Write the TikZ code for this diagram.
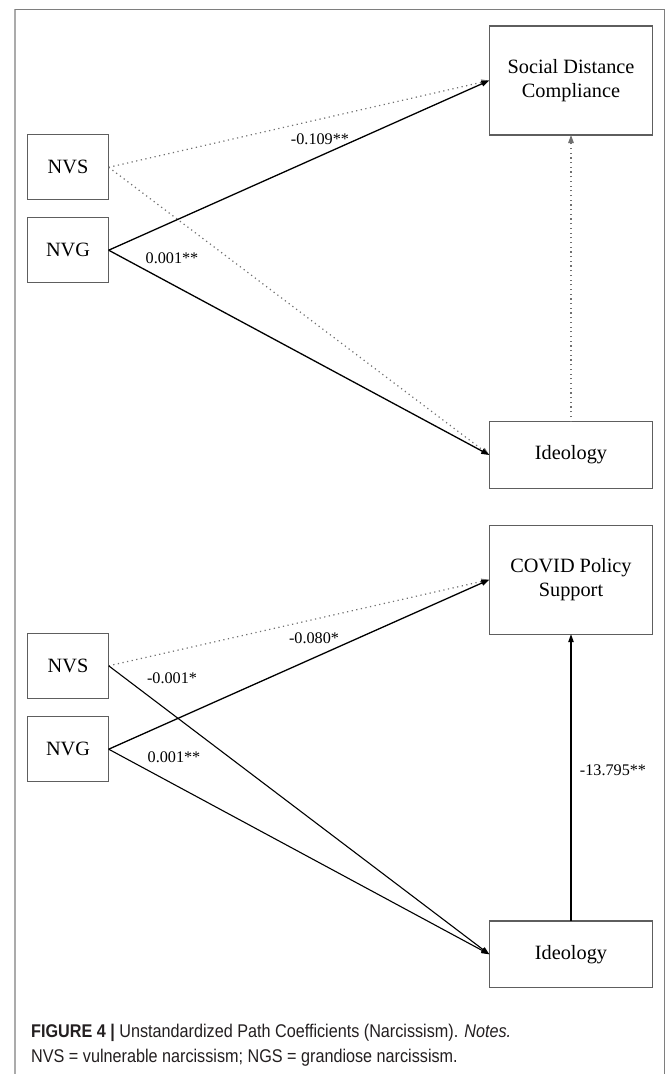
\documentclass[tikz,border=0pt]{standalone}
\usepackage{fontspec}
\setmainfont{Liberation Serif}
\newfontfamily\capfont[FakeStretch=0.88]{Liberation Sans}
\usetikzlibrary{arrows.meta}
\definecolor{boxgray}{HTML}{5E5E5E}
\definecolor{dotgray}{HTML}{707070}
\definecolor{framegray}{HTML}{ABABAB}
\definecolor{capblack}{HTML}{231F20}
\begin{document}
\begin{tikzpicture}[x=1pt,y=-1pt,
  box/.style={draw=boxgray, line width=1.1pt, inner sep=0pt, outer sep=0pt, align=center, font=\fontsize{20.3}{23.7}\selectfont},
  smallbox/.style={box, minimum width=81.4pt, minimum height=65pt},
  bigbox/.style={box, minimum width=163.4pt, minimum height=109pt},
  ideobox/.style={box, minimum width=163.4pt, minimum height=66.6pt},
  sol/.style={draw=black, line width=1.3pt, -{Triangle[length=8pt,width=5.5pt]}},
  dotl/.style={draw=dotgray, line width=1.2pt, dash pattern=on 1.2pt off 3.5pt, -{Triangle[length=8pt,width=5.5pt]}},
  lab/.style={font=\fontsize{16.2}{18}\selectfont, inner sep=0pt}
]
\useasboundingbox (0,0) rectangle (665,1074);
\fill[white] (0,0) rectangle (665,1074);
% frame
\draw[framegray, line width=2pt] (15,9.3) -- (15,1074);
\draw[boxgray!80, line width=1pt] (15,9.3) -- (664.3,9.3) -- (664.3,1074);

% top model
\node[bigbox] (sdc) at (571,80.5) {Social Distance\\Compliance};
\node[ideobox] (ide1) at (571,455) {Ideology};
\node[smallbox] (nvs1) at (68,167.3) {NVS};
\node[smallbox] (nvg1) at (68,250.2) {NVG};

\draw[dotl] (nvs1.east) -- (sdc.west);
\draw[dotl] (nvs1.east) -- (ide1.west);
\draw[sol] (nvg1.east) -- (sdc.west);
\draw[sol] (nvg1.east) -- (ide1.west);
\draw[dotl] (ide1.north) -- (sdc.south);

\node[lab] (l1) at (320,139) {-0.109**};
\node[lab] (l2) at (172,258) {0.001**};

% bottom model
\node[bigbox] (cov) at (571,579.7) {COVID Policy\\Support};
\node[ideobox] (ide2) at (571,954.3) {Ideology};
\node[smallbox] (nvs2) at (68,665.8) {NVS};
\node[smallbox] (nvg2) at (68,749.2) {NVG};

\draw[dotl] (nvs2.east) -- (cov.west);
\draw[sol] (nvg2.east) -- (cov.west);
\draw[sol, line width=1.1pt] (nvs2.east) -- (ide2.west);
\draw[sol, line width=1.1pt] (nvg2.east) -- (ide2.west);
\draw[sol, line width=1.1pt] (ide2.north) -- (cov.south);

\node[lab] (l3) at (314,638) {-0.080*};
\node[lab] (l4) at (172,678) {-0.001*};
\node[lab] (l5) at (174,757) {0.001**};
\node[lab] (l6) at (613,770) {-13.795**};

% caption
\node[anchor=west, inner sep=0pt, text=capblack, font=\capfont\fontsize{18.4}{25}\selectfont] (cap1) at (31,1033)
  {\textbf{FIGURE 4 |} Unstandardized Path Coefficients (Narcissism). \textit{Notes.}};
\node[anchor=west, inner sep=0pt, text=capblack, font=\capfont\fontsize{18.4}{25}\selectfont] (cap2) at (31,1058)
  {NVS = vulnerable narcissism; NGS = grandiose narcissism.};
\end{tikzpicture}
\end{document}
